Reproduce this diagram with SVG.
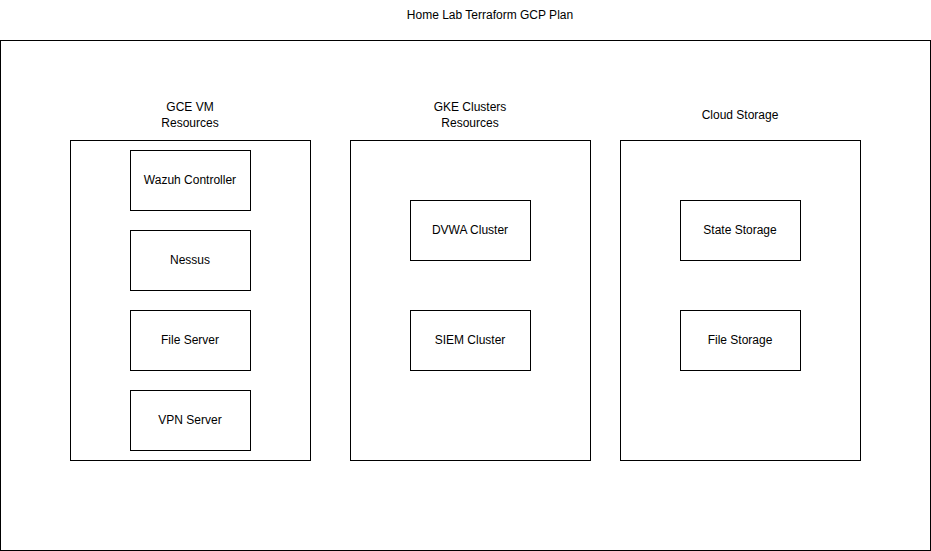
<svg xmlns="http://www.w3.org/2000/svg" width="931" height="551" viewBox="0 0 931 551">
<style>
rect{fill:#fff;stroke:#000;stroke-width:1}
text{font-family:"Liberation Sans",Arial,sans-serif;font-size:12px;fill:#000;text-anchor:middle}
</style>
<rect x="0" y="0" width="931" height="551" style="stroke:none"/>
<g id="title"><text x="490" y="19">Home Lab Terraform GCP Plan</text></g>
<g id="plan"><rect x="0.5" y="40.5" width="930" height="510"/></g>
<g id="gce">
<rect x="70.5" y="140.5" width="240" height="320"/>
<text x="190" y="111">GCE VM</text><text x="190" y="127">Resources</text>
</g>
<g id="gke">
<rect x="350.5" y="140.5" width="240" height="320"/>
<text x="470" y="111">GKE Clusters</text><text x="470" y="127">Resources</text>
</g>
<g id="storage">
<rect x="620.5" y="140.5" width="240" height="320"/>
<text x="740" y="119">Cloud Storage</text>
</g>
<g id="wazuh"><rect x="130.5" y="150.5" width="120" height="60"/><text x="190" y="184">Wazuh Controller</text></g>
<g id="nessus"><rect x="130.5" y="230.5" width="120" height="60"/><text x="190" y="264">Nessus</text></g>
<g id="fileserver"><rect x="130.5" y="310.5" width="120" height="60"/><text x="190" y="344">File Server</text></g>
<g id="vpn"><rect x="130.5" y="390.5" width="120" height="60"/><text x="190" y="424">VPN Server</text></g>
<g id="dvwa"><rect x="410.5" y="200.5" width="120" height="60"/><text x="470" y="234">DVWA Cluster</text></g>
<g id="siem"><rect x="410.5" y="310.5" width="120" height="60"/><text x="470" y="344">SIEM Cluster</text></g>
<g id="state"><rect x="680.5" y="200.5" width="120" height="60"/><text x="740" y="234">State Storage</text></g>
<g id="filestorage"><rect x="680.5" y="310.5" width="120" height="60"/><text x="740" y="344">File Storage</text></g>
<g id="connectors"></g>
</svg>
